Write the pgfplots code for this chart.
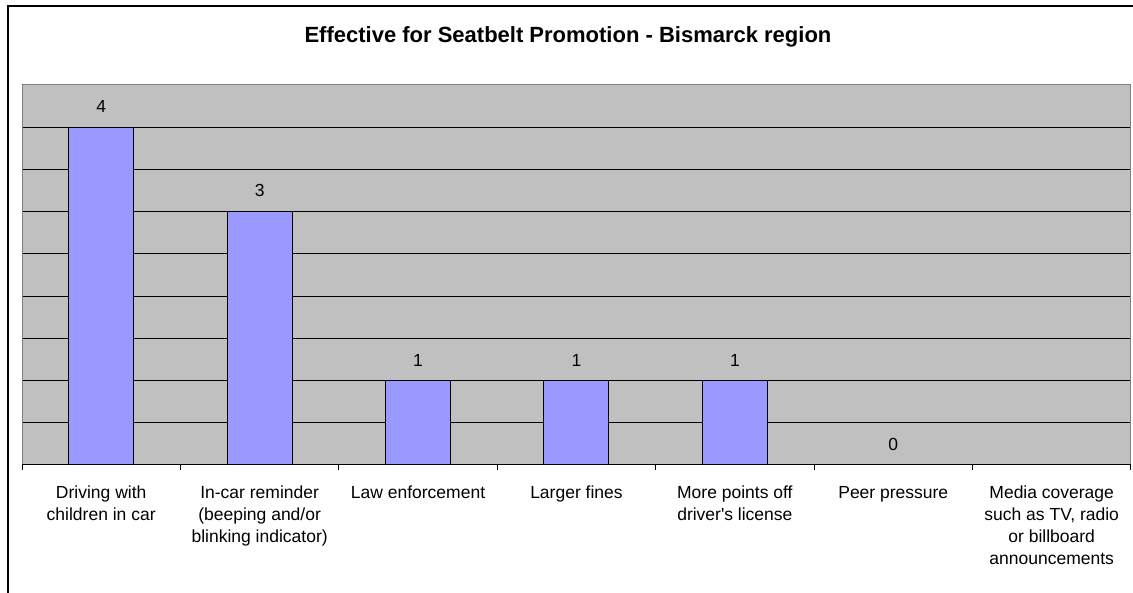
\documentclass[border=0pt]{standalone}
\usepackage{fontspec}
\setmainfont{Liberation Sans}
\usepackage{pgfplots}
\pgfplotsset{compat=1.18}

\definecolor{plotbg}{HTML}{C0C0C0}
\definecolor{barfill}{HTML}{9999FF}
\definecolor{frame}{HTML}{808080}

\begin{document}
\begin{tikzpicture}
\useasboundingbox (0pt,0pt) rectangle (1133pt,593pt);
\draw[line width=2pt] (8pt,0pt) -- (8pt,587pt) -- (1134pt,587pt);
\node[font=\fontsize{22}{26}\selectfont\bfseries] at (568pt,556pt) {Effective for Seatbelt Promotion - Bismarck region};

\begin{axis}[
    at={(22pt,128pt)}, anchor=south west,
    width=1109pt, height=380pt, scale only axis,
    axis background/.style={fill=plotbg},
    axis line style={frame, line width=1pt},
    xmin=-0.5, xmax=6.5, ymin=0, ymax=4.5,
    enlargelimits=false,
    ybar, bar width=65pt,
    xtick={0,...,6},
    minor xtick={-0.5,0.5,...,6.5},
    major tick length=0pt, minor tick length=5pt,
    tick align=outside, xtick pos=bottom, ytick pos=left,
    minor tick style={black, line width=1pt},
    ytick={0,0.5,...,4.5}, yticklabels={},
    ymajorgrids, grid style={black, line width=1pt},
    /pgf/number format/assume math mode=true,
    xticklabel style={align=center, font=\fontsize{17.5}{22}\selectfont, inner sep=0pt, yshift=-21pt},
    xticklabels={
        {Driving with\\children in car},
        {In-car reminder\\(beeping and/or\\blinking indicator)},
        {Law enforcement},
        {Larger fines},
        {More points off\\driver\textquotesingle s license},
        {Peer pressure},
        {Media coverage\\such as TV, radio\\or billboard\\announcements}},
    nodes near coords,
    every node near coord/.append style={font=\fontsize{17.5}{21}\selectfont, inner sep=0pt, yshift=14pt},
]
\addplot[fill=barfill, draw=black, line width=1pt]
    coordinates {(0,4) (1,3) (2,1) (3,1) (4,1) (5,0)};
\draw[black, line width=1pt] (axis cs:-0.5,0) -- (axis cs:6.5,0);
\end{axis}
\end{tikzpicture}
\end{document}
